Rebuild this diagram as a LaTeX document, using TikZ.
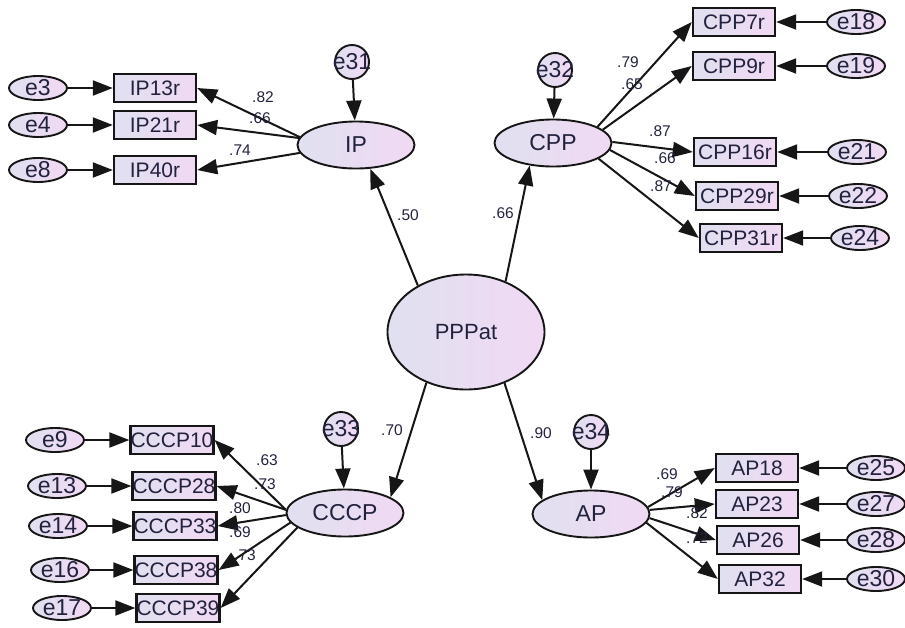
\documentclass[tikz,border=0pt]{standalone}
\usepackage{fontspec}
\setmainfont{Liberation Sans}
\usetikzlibrary{arrows.meta, shapes.geometric}
\definecolor{semInk}{HTML}{161616}
\definecolor{semText}{HTML}{22223E}
\definecolor{semLeft}{HTML}{E0E0F0}
\definecolor{semRight}{HTML}{F1D9F3}
\tikzset{
  semfig/.style={
    x=1pt, y=-1pt,
    every node/.append style={text=semText},
    >={Triangle[length=20pt, width=15pt]},
  },
  latent/.style={
    ellipse, draw=semInk, line width=1.9pt, left color=semLeft, right color=semRight,
    minimum width=117pt, minimum height=47pt, inner sep=0pt,
    font=\fontsize{23}{26}\selectfont,
  },
  rootlatent/.style={latent, minimum width=157pt, minimum height=115pt, font=\fontsize{22}{26}\selectfont},
  indic/.style={
    rectangle, draw=semInk, line width=2.4pt, left color=semLeft, right color=semRight,
    minimum width=82pt, minimum height=28pt, inner sep=0pt,
    font=\fontsize{21}{24}\selectfont,
  },
  % Messfehler: kleine Ellipsen, Text darf ueberstehen
  errnode/.style={
    ellipse, draw=semInk, line width=1.9pt, left color=semLeft, right color=semRight,
    minimum width=58pt, minimum height=24pt, inner sep=0pt,
    font=\fontsize{23}{26}\selectfont,
  },
  disturb/.style={errnode, circle, minimum size=34pt},
  load/.style={draw=semInk, line width=2pt, ->},
  coef/.style={font=\fontsize{15.5}{18}\selectfont, inner sep=0pt},
}

\begin{document}
\begin{tikzpicture}[semfig]
  \useasboundingbox[fill=white] (0,0) rectangle (905,627);
  % zentrale Variable
  \node[rootlatent] (PPPat) at (466,332) {PPPat};
  % IP
  \node[latent] (IP) at (356,145) {IP};
  \node[disturb] (e31) at (352,62) {\makebox[0pt]{e31}};
  \node[indic] (IP13r) at (155,88) {IP13r};
  \node[indic] (IP21r) at (155,125) {IP21r};
  \node[indic] (IP40r) at (155,170) {IP40r};
  \node[errnode] (e3) at (38,88) {e3};
  \node[errnode] (e4) at (38,125) {e4};
  \node[errnode] (e8) at (38,170) {e8};
  % CPP
  \node[latent] (CPP) at (553,143) {CPP};
  \node[disturb] (e32) at (555,70) {\makebox[0pt]{e32}};
  \node[indic] (CPP7r) at (734,22) {CPP7r};
  \node[indic] (CPP9r) at (734,66) {CPP9r};
  \node[indic] (CPP16r) at (735,152) {CPP16r};
  \node[indic] (CPP29r) at (737,196) {CPP29r};
  \node[indic] (CPP31r) at (741,238) {CPP31r};
  \node[errnode] (e18) at (856,22) {e18};
  \node[errnode] (e19) at (856,66) {e19};
  \node[errnode] (e21) at (857,152) {e21};
  \node[errnode] (e22) at (858,196) {e22};
  \node[errnode] (e24) at (860,238) {e24};
  % CCCP
  \node[latent] (CCCP) at (345,513) {CCCP};
  \node[disturb] (e33) at (341,429) {\makebox[0pt]{e33}};
  \node[indic] (CCCP10) at (172,440) {CCCP10};
  \node[indic] (CCCP28) at (174,486) {CCCP28};
  \node[indic] (CCCP33) at (175,526) {CCCP33};
  \node[indic] (CCCP38) at (176,570) {CCCP38};
  \node[indic] (CCCP39) at (178,608) {CCCP39};
  \node[errnode] (e9) at (55,440) {e9};
  \node[errnode] (e13) at (57,486) {e13};
  \node[errnode] (e14) at (58,526) {e14};
  \node[errnode] (e16) at (60,570) {e16};
  \node[errnode] (e17) at (62,608) {e17};
  % AP
  \node[latent] (AP) at (591,514) {AP};
  \node[disturb] (e34) at (591,432) {\makebox[0pt]{e34}};
  \node[indic] (AP18) at (757,468) {AP18};
  \node[indic] (AP23) at (757,504) {AP23};
  \node[indic] (AP26) at (758,540) {AP26};
  \node[indic] (AP32) at (760,579) {AP32};
  \node[errnode] (e25) at (876,468) {e25};
  \node[errnode] (e27) at (876,504) {e27};
  \node[errnode] (e28) at (876,540) {e28};
  \node[errnode] (e30) at (876,579) {e30};

  \draw[load] (PPPat.136) -- (IP.301);
  \draw[load] (PPPat.52) -- (CPP.224);
  \draw[load] (PPPat.232) -- (CCCP.19);
  \draw[load] (PPPat.307) -- (AP.164);
  \draw[load] (e31) -- (IP);
  \draw[load] (e32) -- (CPP);
  \draw[load] (e33) -- (CCCP);
  \draw[load] (e34) -- (AP);
  \draw[load] (IP.172) -- (IP13r.east);
  \draw[load] (IP.173) -- (IP21r.east);
  \draw[load] (IP.188) -- (IP40r.east);
  \draw[load] (e3) -- (IP13r);
  \draw[load] (e4) -- (IP21r);
  \draw[load] (e8) -- (IP40r);
  \draw[load] (CPP.20) -- (CPP7r.west);
  \draw[load] (CPP.15) -- (CPP9r.west);
  \draw[load] (CPP.1) -- (CPP16r.west);
  \draw[load] (CPP.-7) -- (CPP29r.west);
  \draw[load] (CPP.-19) -- (CPP31r.west);
  \draw[load] (e18) -- (CPP7r);
  \draw[load] (e19) -- (CPP9r);
  \draw[load] (e21) -- (CPP16r);
  \draw[load] (e22) -- (CPP29r);
  \draw[load] (e24) -- (CPP31r);
  \draw[load] (CCCP.177) -- (CCCP10.east);
  \draw[load] (CCCP.177) -- (CCCP28.east);
  \draw[load] (CCCP.182) -- (CCCP33.east);
  \draw[load] (CCCP.190) -- (CCCP38.east);
  \draw[load] (CCCP.197) -- (CCCP39.east);
  \draw[load] (e9) -- (CCCP10);
  \draw[load] (e13) -- (CCCP28);
  \draw[load] (e14) -- (CCCP33);
  \draw[load] (e16) -- (CCCP38);
  \draw[load] (e17) -- (CCCP39);
  \draw[load] (AP.7) -- (AP18.west);
  \draw[load] (AP.4) -- (AP23.west);
  \draw[load] (AP.-4) -- (AP26.west);
  \draw[load] (AP.-9) -- (AP32.west);
  \draw[load] (e25) -- (AP18);
  \draw[load] (e27) -- (AP23);
  \draw[load] (e28) -- (AP26);
  \draw[load] (e30) -- (AP32);

  \node[coef] (cIP) at (408,215) {.50};
  \node[coef] (cCPP) at (503,213) {.66};
  \node[coef] (cCCCP) at (392,430) {.70};
  \node[coef] (cAP) at (541,433) {.90};
  \node[coef] (c13) at (263,97) {.82};
  \node[coef] (c21) at (260,118) {.66};
  \node[coef] (c40) at (240,150) {.74};
  \node[coef] (c7) at (628,62) {.79};
  \node[coef] (c9) at (632,84) {.65};
  \node[coef] (c16) at (660,131) {.87};
  \node[coef] (c29) at (665,158) {.66};
  \node[coef] (c31) at (661,186) {.87};
  \node[coef] (c10) at (267,460) {.63};
  \node[coef] (c28) at (265,484) {.73};
  \node[coef] (c33) at (240,508) {.80};
  \node[coef] (c38) at (240,532) {.69};
  \node[coef] (c39) at (245,555) {.73};
  \node[coef] (c18) at (667,474) {.69};
  \node[coef] (c23) at (672,492) {.79};
  \node[coef] (c26) at (697,513) {.82};
  \node[coef] (c32) at (697,538) {.72};
\end{tikzpicture}
\end{document}
